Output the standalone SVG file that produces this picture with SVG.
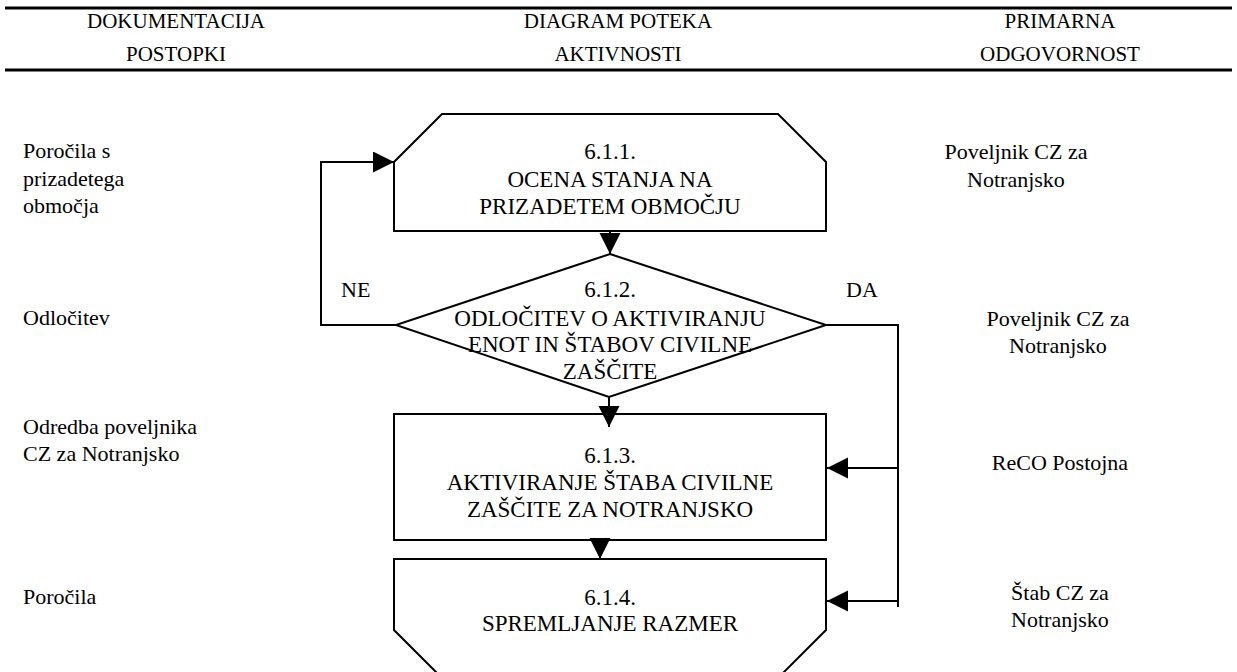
<svg xmlns="http://www.w3.org/2000/svg" width="1237" height="672" viewBox="0 0 1237 672">
<style>
text{font-family:"Liberation Serif",Tinos,"Times New Roman",serif;font-size:22px;fill:#000}
.h{font-size:21px;text-anchor:middle}
.c{text-anchor:middle}
.n{font-size:23px;text-anchor:middle}
.shape{fill:#fff;stroke:#000;stroke-width:2}
.conn{fill:none;stroke:#000;stroke-width:2}
.rule{stroke:#000;stroke-width:3}
</style>
<defs>
<marker id="ah" markerUnits="userSpaceOnUse" markerWidth="22" markerHeight="22" refX="21" refY="10.5" orient="auto" viewBox="0 0 22 22">
<path d="M0,0 L21,10.5 L0,21 z" fill="#000"/>
</marker>
</defs>
<rect width="1237" height="672" fill="#fff"/>
<g id="header">
<line class="rule" x1="5" y1="8" x2="1232" y2="8"/>
<line class="rule" x1="5" y1="70" x2="1232" y2="70"/>
<text class="h" x="176" y="28">DOKUMENTACIJA</text>
<text class="h" x="176" y="61">POSTOPKI</text>
<text class="h" x="618" y="28">DIAGRAM POTEKA</text>
<text class="h" x="618" y="61">AKTIVNOSTI</text>
<text class="h" x="1060" y="28">PRIMARNA</text>
<text class="h" x="1060" y="61">ODGOVORNOST</text>
</g>
<g id="node-611">
<polygon class="shape" points="442,114 778,114 826,162 826,231 394,231 394,162"/>
<text class="n" x="610" y="159">6.1.1.</text>
<text class="n" x="610" y="187">OCENA STANJA NA</text>
<text class="n" x="610" y="214">PRIZADETEM OBMOČJU</text>
</g>
<g id="node-612">
<polygon class="shape" points="610,254 826,325 609,397 396,325"/>
<text class="n" x="610" y="297">6.1.2.</text>
<text class="n" x="610" y="326">ODLOČITEV O AKTIVIRANJU</text>
<text class="n" x="610" y="352">ENOT IN ŠTABOV CIVILNE</text>
<text class="n" x="610" y="379">ZAŠČITE</text>
</g>
<g id="node-613">
<rect class="shape" x="394" y="414" width="432" height="126"/>
<text class="n" x="610" y="463">6.1.3.</text>
<text class="n" x="610" y="490">AKTIVIRANJE ŠTABA CIVILNE</text>
<text class="n" x="610" y="517">ZAŠČITE ZA NOTRANJSKO</text>
</g>
<g id="node-614">
<polygon class="shape" points="394,559 826,559 826,630 770,686 450,686 394,630"/>
<text class="n" x="610" y="605">6.1.4.</text>
<text class="n" x="610" y="631">SPREMLJANJE RAZMER</text>
</g>
<g id="connectors">
<path class="conn" d="M396,325 H321 V162 H394" marker-end="url(#ah)"/>
<path class="conn" d="M610,231 V254" marker-end="url(#ah)"/>
<path class="conn" d="M609,397 V427" marker-end="url(#ah)"/>
<path class="conn" d="M600,540 V559" marker-end="url(#ah)"/>
<path class="conn" d="M826,325 H898 V607"/>
<path class="conn" d="M898,468 H827" marker-end="url(#ah)"/>
<path class="conn" d="M898,601 H827" marker-end="url(#ah)"/>
<text x="341" y="297">NE</text>
<text x="846" y="297">DA</text>
</g>
<g id="docs">
<text x="23" y="158">Poročila s</text>
<text x="23" y="186">prizadetega</text>
<text x="23" y="213">območja</text>
<text x="23" y="325">Odločitev</text>
<text x="23" y="434">Odredba poveljnika</text>
<text x="23" y="461">CZ za Notranjsko</text>
<text x="23" y="604">Poročila</text>
</g>
<g id="responsibility">
<text class="c" x="1016" y="159">Poveljnik CZ za</text>
<text class="c" x="1016" y="187">Notranjsko</text>
<text class="c" x="1058" y="326">Poveljnik CZ za</text>
<text class="c" x="1058" y="353">Notranjsko</text>
<text class="c" x="1060" y="470">ReCO Postojna</text>
<text class="c" x="1060" y="600">Štab CZ za</text>
<text class="c" x="1060" y="627">Notranjsko</text>
</g>
</svg>
